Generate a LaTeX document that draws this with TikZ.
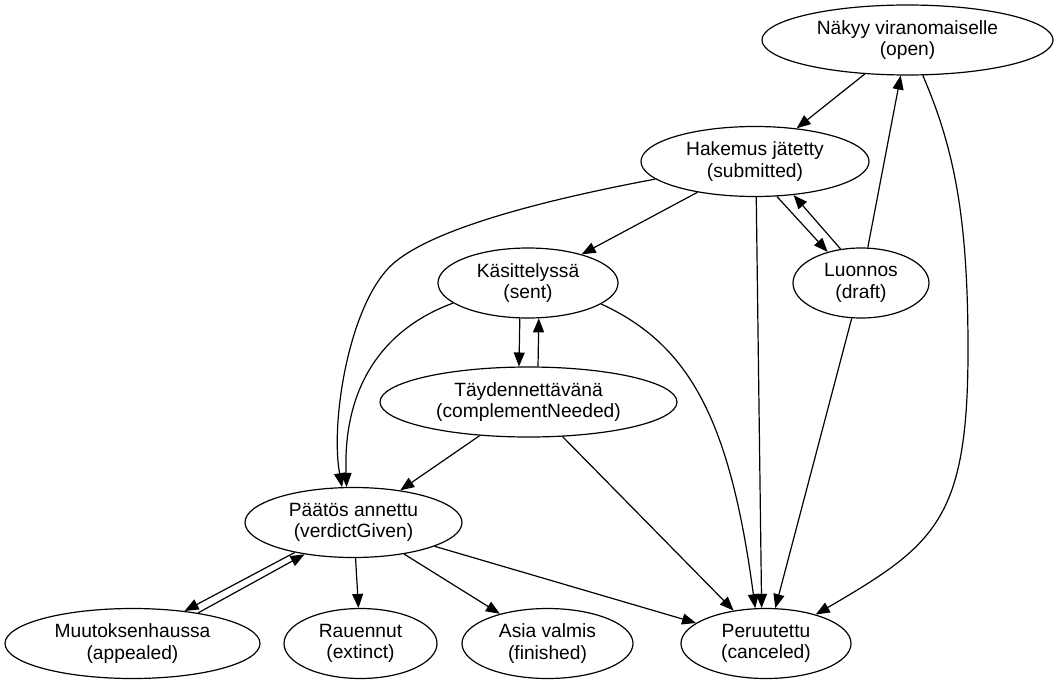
\documentclass[tikz,border=0pt]{standalone}
\usepackage{fontspec}
\setmainfont{Liberation Sans}
\usetikzlibrary{shapes.geometric,arrows.meta}

\begin{document}
\begin{tikzpicture}[x=1pt,y=-1pt,
  state/.style={draw, ellipse, line width=1.2pt, inner sep=0pt,
    minimum height=70pt, align=center,
    font=\fontsize{19.2pt}{21.5pt}\selectfont},
  edge/.style={line width=1.2pt, -{Triangle[length=14pt,width=11pt]}}]
\useasboundingbox (0,0) rectangle (1059,685);

% states
\node[state, minimum width=291pt] (open)     at (907.5,40)    {Näkyy viranomaiselle\\(open)};
\node[state, minimum width=228pt] (sub)      at (755,161.5)   {Hakemus jätetty\\(submitted)};
\node[state, minimum width=180pt] (sent)     at (528,283)     {Käsittelyssä\\(sent)};
\node[state, minimum width=136pt] (draft)    at (861,283)     {Luonnos\\(draft)};
\node[state, minimum width=297pt] (comp)     at (528.5,402)   {Täydennettävänä\\(complementNeeded)};
\node[state, minimum width=217pt] (verdict)  at (353.5,522.5) {Päätös annettu\\(verdictGiven)};
\node[state, minimum width=255pt] (appealed) at (132.5,643.5) {Muutoksenhaussa\\(appealed)};
\node[state, minimum width=153pt] (extinct)  at (360.5,643.5) {Rauennut\\(extinct)};
\node[state, minimum width=171pt] (finished) at (547.5,643.5) {Asia valmis\\(finished)};
\node[state, minimum width=170pt] (canc)     at (766,643.5)   {Peruutettu\\(canceled)};

% transitions
\draw[edge] (open) -- (sub);
\draw[edge] (open) .. controls (955,150) and (968,220) .. (968,350)
            .. controls (968,520) and (935,545) .. (canc);
\draw[edge] (draft) -- (open);
\draw[edge] (sub) -- (sent);
\draw[edge] (sub.-58) -- (draft.137);
\draw[edge] (draft.121) -- (sub.-41);
\draw[edge] (sub.-88) -- (canc.97);
\draw[edge] (sub.190) .. controls (560,197) and (440,225) .. (395,262)
            .. controls (350,299) and (330,420) .. (verdict.108);
\draw[edge] (sent.-103) -- (comp.105);
\draw[edge] (comp.75) -- (sent.-73);
\draw[edge] (sent.195) .. controls (380,330) and (343,390) .. (verdict.101);
\draw[edge] (sent.-16) .. controls (690,345) and (730,420) .. (canc.107);
\draw[edge] (draft) -- (canc);
\draw[edge] (comp) -- (verdict);
\draw[edge] (comp) -- (canc);
\draw[edge] (verdict.207) -- (appealed.32);
\draw[edge] (appealed.25) -- (verdict.213);
\draw[edge] (verdict) -- (extinct);
\draw[edge] (verdict) -- (finished);
\draw[edge] (verdict) -- (canc);
\end{tikzpicture}
\end{document}
